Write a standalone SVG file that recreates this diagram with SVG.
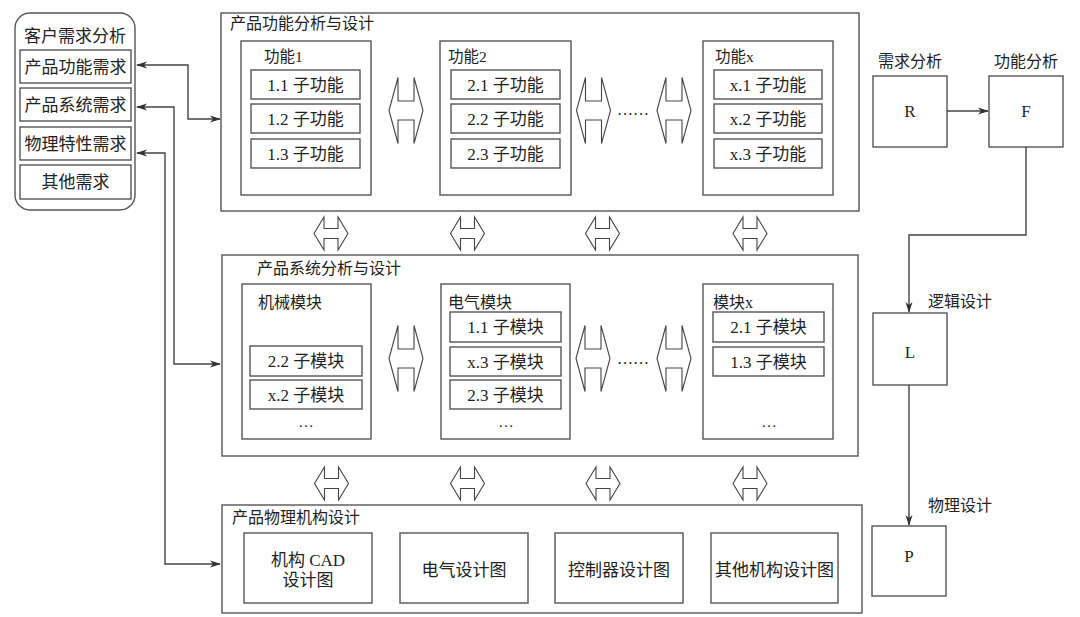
<svg xmlns="http://www.w3.org/2000/svg" width="1080" height="617" viewBox="0 0 1080 617">
<style>
text{font-family:"Liberation Serif","Noto Sans CJK SC",serif;fill:#222;}
.box{fill:#fff;stroke:#555;stroke-width:1.4;}
.t17{font-size:17px;}
.t16{font-size:16px;}
.t15{font-size:15.5px;}
.c{text-anchor:middle;}
.dbl{fill:#fff;stroke:#444;stroke-width:1.1;}
.con{fill:none;stroke:#444;stroke-width:1.4;}
</style>
<defs>
<marker id="ah" viewBox="0 -4 11 8" refX="10" refY="0" markerWidth="11" markerHeight="8" markerUnits="userSpaceOnUse" orient="auto-start-reverse">
<path d="M0,-3.5 L11,0 L0,3.5 L3,0 Z" fill="#333"/>
</marker>
<path id="big" class="dbl" d="M-17,0 L-8,-33 L-8,-9.5 L8,-9.5 L8,-33 L17,0 L8,33 L8,9.5 L-8,9.5 L-8,33 Z"/>
<path id="small" class="dbl" d="M-17,0 L-7,-16.5 L-7,-5 L7,-5 L7,-16.5 L17,0 L7,16.5 L7,5 L-7,5 L-7,16.5 Z"/>
</defs>
<rect width="1080" height="617" fill="#fff"/>

<g id="customer">
<rect class="box" x="15" y="13" width="120" height="197" rx="15"/>
<text class="t17 c" x="75" y="42">客户需求分析</text>
<rect class="box" x="20" y="50" width="111" height="33"/>
<text class="t17 c" x="75.5" y="72.5">产品功能需求</text>
<rect class="box" x="20" y="88" width="111" height="33"/>
<text class="t17 c" x="75.5" y="110.5">产品系统需求</text>
<rect class="box" x="20" y="127" width="111" height="33"/>
<text class="t17 c" x="75.5" y="149.5">物理特性需求</text>
<rect class="box" x="20" y="165" width="111" height="34"/>
<text class="t17 c" x="75.5" y="188">其他需求</text>
</g>

<g id="func">
<rect class="box" x="221" y="13" width="638" height="198"/>
<text class="t16" x="230" y="29">产品功能分析与设计</text>
<g id="func1">
<rect class="box" x="241" y="41" width="130" height="154"/>
<text class="t15" x="264" y="61.5">功能1</text>
<rect class="box" x="251" y="70" width="109" height="29"/>
<text class="t17 c" x="305.5" y="90.5">1.1 子功能</text>
<rect class="box" x="251" y="104" width="109" height="29"/>
<text class="t17 c" x="305.5" y="124.5">1.2 子功能</text>
<rect class="box" x="251" y="139" width="109" height="29"/>
<text class="t17 c" x="305.5" y="159.5">1.3 子功能</text>
</g>
<g id="func2">
<rect class="box" x="440" y="41" width="131" height="154"/>
<text class="t15" x="448" y="61.5">功能2</text>
<rect class="box" x="451" y="70" width="109" height="29"/>
<text class="t17 c" x="505.5" y="90.5">2.1 子功能</text>
<rect class="box" x="451" y="104" width="109" height="29"/>
<text class="t17 c" x="505.5" y="124.5">2.2 子功能</text>
<rect class="box" x="451" y="139" width="109" height="29"/>
<text class="t17 c" x="505.5" y="159.5">2.3 子功能</text>
</g>
<g id="funcx">
<rect class="box" x="703" y="41" width="130" height="154"/>
<text class="t15" x="715" y="61.5">功能x</text>
<rect class="box" x="714" y="70" width="108" height="29"/>
<text class="t17 c" x="768" y="90.5">x.1 子功能</text>
<rect class="box" x="714" y="104" width="108" height="29"/>
<text class="t17 c" x="768" y="124.5">x.2 子功能</text>
<rect class="box" x="714" y="139" width="108" height="29"/>
<text class="t17 c" x="768" y="159.5">x.3 子功能</text>
</g>
</g>

<g id="system">
<rect class="box" x="222" y="255" width="636" height="201"/>
<text class="t16" x="257" y="274">产品系统分析与设计</text>
<g id="mech">
<rect class="box" x="242" y="284" width="129" height="155"/>
<text class="t16" x="258" y="307.5">机械模块</text>
<rect class="box" x="250" y="346" width="112" height="30"/>
<text class="t17 c" x="306" y="367">2.2 子模块</text>
<rect class="box" x="250" y="380" width="112" height="29"/>
<text class="t17 c" x="306" y="400.5">x.2 子模块</text>
<text class="t15 c" x="306" y="427">…</text>
</g>
<g id="elec">
<rect class="box" x="441" y="284" width="129" height="155"/>
<text class="t16" x="448" y="307.5">电气模块</text>
<rect class="box" x="450" y="312" width="111" height="30"/>
<text class="t17 c" x="505.5" y="333">1.1 子模块</text>
<rect class="box" x="450" y="347" width="111" height="29"/>
<text class="t17 c" x="505.5" y="367.5">x.3 子模块</text>
<rect class="box" x="450" y="380" width="111" height="29"/>
<text class="t17 c" x="505.5" y="400.5">2.3 子模块</text>
<text class="t15 c" x="506" y="427">…</text>
</g>
<g id="modx">
<rect class="box" x="703" y="284" width="130" height="155"/>
<text class="t16" x="713" y="307.5">模块x</text>
<rect class="box" x="713" y="312" width="111" height="30"/>
<text class="t17 c" x="768.5" y="333">2.1 子模块</text>
<rect class="box" x="713" y="347" width="111" height="29"/>
<text class="t17 c" x="768.5" y="367.5">1.3 子模块</text>
<text class="t15 c" x="769" y="427">…</text>
</g>
</g>

<g id="physical">
<rect class="box" x="222" y="505" width="640" height="108"/>
<text class="t16" x="232" y="523">产品物理机构设计</text>
<g id="cad">
<rect class="box" x="244" y="533" width="128" height="70"/>
<text class="t17 c" x="308" y="565.5">机构 CAD</text>
<text class="t17 c" x="308" y="586">设计图</text>
</g>
<g id="elecdraw">
<rect class="box" x="400" y="533" width="128" height="70"/>
<text class="t17 c" x="464" y="576">电气设计图</text>
</g>
<g id="ctrl">
<rect class="box" x="555" y="533" width="128" height="70"/>
<text class="t17 c" x="619" y="576">控制器设计图</text>
</g>
<g id="other">
<rect class="box" x="711" y="533" width="127" height="70"/>
<text class="t17 c" x="774.5" y="576">其他机构设计图</text>
</g>
</g>

<g id="R">
<text class="t16 c" x="910" y="66.5">需求分析</text>
<rect class="box" x="873" y="76" width="74" height="71"/>
<text class="t17 c" x="910" y="117">R</text>
</g>
<g id="F">
<text class="t16 c" x="1026" y="66.5">功能分析</text>
<rect class="box" x="989" y="76" width="74" height="71"/>
<text class="t17 c" x="1026" y="117">F</text>
</g>
<g id="L">
<text class="t16" x="928" y="306.5">逻辑设计</text>
<rect class="box" x="873" y="313" width="74" height="72"/>
<text class="t17 c" x="910" y="358">L</text>
</g>
<g id="P">
<text class="t16" x="928" y="511">物理设计</text>
<rect class="box" x="872" y="526" width="74" height="70"/>
<text class="t17 c" x="909" y="561.5">P</text>
</g>

<g id="connectors">
<polyline class="con" points="137,65 188,65 188,119 220,119" marker-start="url(#ah)" marker-end="url(#ah)"/>
<polyline class="con" points="137,107 174,107 174,364 220,364" marker-start="url(#ah)" marker-end="url(#ah)"/>
<polyline class="con" points="137,153 165,153 165,564 220,564" marker-start="url(#ah)" marker-end="url(#ah)"/>
<line class="con" x1="947" y1="111" x2="988" y2="111" marker-end="url(#ah)"/>
<polyline class="con" points="1026,147 1026,235 909,235 909,312" marker-end="url(#ah)"/>
<line class="con" x1="909" y1="385" x2="909" y2="525" marker-end="url(#ah)"/>
<use href="#big" x="406" y="110.5"/>
<use href="#big" x="593.5" y="110.5"/>
<use href="#big" x="674" y="110.5"/>
<use href="#big" x="406" y="358.5"/>
<use href="#big" x="593" y="358.5"/>
<use href="#big" x="674" y="358.5"/>
<use href="#small" x="331" y="233.5"/>
<use href="#small" x="467.5" y="233.5"/>
<use href="#small" x="602.5" y="233.5"/>
<use href="#small" x="750" y="233.5"/>
<use href="#small" x="331.5" y="483.5"/>
<use href="#small" x="467.5" y="483.5"/>
<use href="#small" x="603" y="483.5"/>
<use href="#small" x="750" y="483.5"/>
<text class="t16" x="617" y="115">……</text>
<text class="t16" x="617" y="364">……</text>
</g>
</svg>
